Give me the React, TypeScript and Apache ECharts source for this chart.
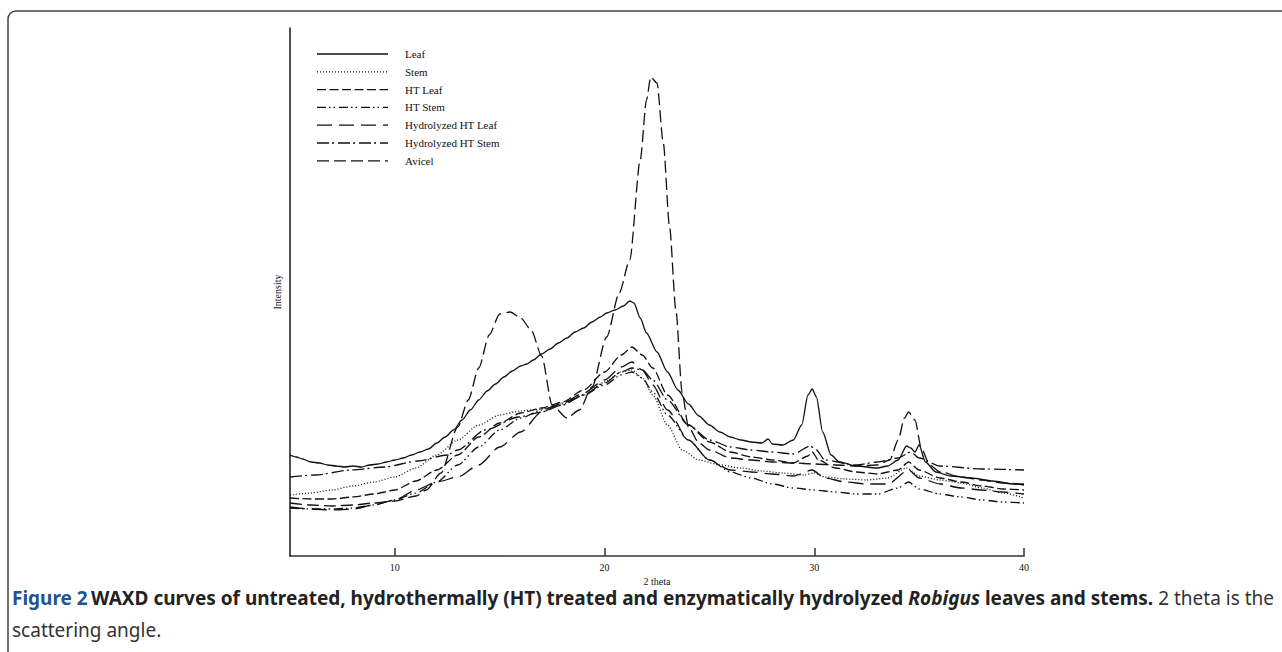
import React, { useEffect, useRef } from "react";
import * as echarts from "echarts";

const seriesNames = ["Leaf", "Stem", "HT Leaf", "HT Stem", "Hydrolyzed HT Leaf", "Hydrolyzed HT Stem", "Avicel"];

const xTicks = [10, 20, 30, 40];

const leaf: [number, number][] = [
  [5.0, 101], [5.3, 99], [5.6, 97], [6.0, 94], [6.4, 93], [6.8, 91], [7.2, 90], [7.6, 89], [8.0, 90], [8.4, 89],
  [8.8, 91], [9.2, 92], [9.6, 94], [10.0, 96], [10.4, 98], [10.8, 101], [11.2, 104], [11.6, 107], [12.0, 113],
  [12.4, 119], [12.8, 126], [13.2, 136], [13.6, 146], [14.0, 156], [14.4, 165], [14.8, 172], [15.2, 179],
  [15.6, 185], [16.0, 190], [16.3, 192], [16.6, 196], [17.0, 202], [17.4, 207], [17.8, 213], [18.2, 218],
  [18.6, 224], [19.0, 228], [19.4, 234], [19.8, 239], [20.1, 243], [20.5, 246], [20.9, 250], [21.2, 255],
  [21.4, 253], [21.7, 238], [22.0, 223], [22.5, 204], [23.0, 184], [23.5, 166], [24.0, 152], [24.5, 140],
  [25.0, 131], [25.5, 124], [26.0, 119], [26.5, 116], [27.0, 114], [27.5, 113], [27.8, 117], [28.0, 112],
  [28.5, 111], [29.0, 116], [29.4, 131], [29.7, 161], [29.9, 167], [30.1, 159], [30.4, 124], [30.8, 101],
  [31.2, 94], [32.0, 90], [33.0, 88], [33.5, 90], [34.0, 96], [34.4, 110], [34.6, 108], [34.8, 104],
  [35.0, 111], [35.3, 94], [35.8, 84], [36.5, 80], [37.5, 78], [38.5, 75], [39.5, 72], [40.0, 71],
];

const stem: [number, number][] = [
  [5, 61], [6, 63], [7, 66], [8, 70], [9, 74], [10, 79], [11, 88], [12, 101], [13, 116], [14, 131], [15, 141],
  [16, 145], [17, 147], [18, 152], [19, 161], [20, 174], [20.8, 184], [21.3, 186], [21.8, 178], [22.3, 161],
  [23, 131], [23.7, 106], [24.5, 96], [25.5, 91], [26.5, 88], [27.5, 85], [28.5, 83], [29.5, 81], [30, 83],
  [30.5, 79], [31.5, 77], [32.5, 76], [33.5, 78], [34.4, 88], [35, 80], [36, 76], [37, 73], [38, 68], [39, 63],
  [40, 58],
];

const htLeaf: [number, number][] = [
  [5, 58], [6, 57], [7, 57], [8, 59], [9, 62], [10, 66], [11, 75], [12, 86], [13, 101], [14, 119], [15, 133],
  [16, 143], [17, 148], [18, 154], [19, 166], [20, 184], [20.8, 201], [21.3, 209], [21.8, 201], [22.3, 188],
  [23, 161], [24, 131], [25, 114], [26, 104], [27, 99], [28, 96], [29, 93], [29.7, 100], [29.9, 104],
  [30.2, 96], [31, 88], [32, 84], [33, 82], [34, 86], [34.5, 94], [35, 86], [36, 78], [37, 74], [38, 70],
  [39, 67], [40, 66],
];

const htStem: [number, number][] = [
  [5, 48], [6, 47], [7, 47], [8, 48], [9, 51], [10, 56], [11, 63], [12, 74], [13, 91], [14, 109], [15, 126],
  [16, 138], [17, 146], [18, 153], [19, 161], [20, 171], [20.8, 181], [21.3, 184], [21.8, 178], [22.3, 164],
  [23, 141], [24, 116], [25, 96], [26, 84], [27, 78], [28, 72], [29, 68], [30, 66], [31, 64], [32, 62], [33, 62],
  [34, 68], [34.5, 74], [35, 67], [36, 62], [37, 59], [38, 56], [39, 54], [40, 53],
];

const hydLeaf: [number, number][] = [
  [5, 49], [6, 47], [7, 46], [8, 47], [9, 51], [10, 56], [11, 66], [12, 74], [13, 79], [14, 91], [15, 109],
  [16, 124], [17, 144], [18, 153], [19, 163], [20, 176], [20.8, 189], [21.3, 194], [21.8, 186], [22.3, 171],
  [23, 146], [24, 116], [25, 96], [26, 86], [27, 84], [28, 82], [29, 80], [29.9, 86], [30.5, 78], [31.5, 74],
  [32.5, 72], [33.5, 72], [34.5, 86], [35, 78], [36, 72], [37, 68], [38, 66], [39, 64], [40, 62],
];

const hydStem: [number, number][] = [
  [5, 79], [6.2, 81], [7.9, 86], [9.5, 89], [11.1, 95], [12.5, 101], [13, 106], [14.3, 126], [15.9, 139],
  [17, 144], [18, 151], [19, 161], [20, 173], [20.8, 184], [21.3, 188], [21.8, 186], [22.3, 176], [23, 156],
  [24, 131], [25, 116], [26, 109], [27, 106], [28, 104], [29, 102], [29.8, 110], [30.1, 106], [30.5, 96],
  [32, 91], [33, 94], [34, 98], [34.6, 104], [35, 98], [36, 90], [38, 87], [40, 86],
];

const avicel: [number, number][] = [
  [5, 53], [6, 51], [7, 50], [8, 51], [9, 53], [10, 55], [11, 60], [11.5, 66], [12.2, 83], [13, 129],
  [13.5, 156], [14, 188], [14.5, 221], [15, 242], [15.5, 244], [16, 238], [16.5, 226], [17, 200], [17.5, 151],
  [18.2, 138], [18.8, 146], [19.4, 169], [20.1, 219], [20.7, 263], [21.2, 296], [21.7, 396], [22.0, 456],
  [22.2, 479], [22.5, 473], [22.8, 413], [23.1, 329], [23.4, 246], [23.7, 163], [24.0, 129], [24.5, 113],
  [25, 106], [26, 98], [27, 96], [28, 94], [29, 93], [30, 92], [31, 91], [32, 90], [33, 91], [33.6, 96],
  [34.0, 116], [34.3, 138], [34.5, 144], [34.8, 136], [35.1, 108], [35.5, 91], [36, 84], [37, 79], [38, 76],
  [39, 73], [40, 72],
];

const seriesData = [leaf, stem, htLeaf, htStem, hydLeaf, hydStem, avicel];
const dashes: any[] = ["solid", [1, 2], [9, 3.5], [9, 3, 1.5, 3, 1.5, 4], [15, 7], [12, 3, 2, 4], [12, 5]];

const INK = "#111";
const SERIF = '"Liberation Serif", "Times New Roman", serif';
const CAPTION_FONT = '"Noto Sans", "Open Sans", sans-serif';
const CAP_SIZE = 19;

function buildOption() {
  const legendItems: any[] = [];
  seriesNames.forEach((name, i) => {
    const y = 54 + i * 17.8;
    legendItems.push({
      type: "line",
      shape: { x1: 317, y1: y, x2: 388, y2: y },
      style: {
        stroke: INK,
        lineWidth: 1.3,
        lineDash: dashes[i] === "solid" ? null : dashes[i],
      },
    });
    legendItems.push({
      type: "text",
      x: 405,
      y,
      style: {
        text: name,
        fill: INK,
        font: `11px ${SERIF}`,
        verticalAlign: "middle",
        textAlign: "left",
      },
    });
  });

  return {
    animation: false,
    backgroundColor: "#fff",
    grid: { left: 290, right: 258, top: 28, bottom: 96 },
    xAxis: {
      type: "value",
      min: 5,
      max: 40,
      name: "2 theta",
      nameLocation: "middle",
      nameGap: 18,
      nameTextStyle: { color: INK, fontFamily: SERIF, fontSize: 10 },
      axisLine: { show: true, lineStyle: { color: "#333", width: 1.7 } },
      axisTick: { show: true, inside: true, length: 8, customValues: xTicks, lineStyle: { color: "#333", width: 1.5 } },
      axisLabel: { show: true, customValues: xTicks, color: INK, fontFamily: SERIF, fontSize: 10, margin: 6 },
      splitLine: { show: false },
    },
    yAxis: {
      type: "value",
      min: 0,
      max: 528,
      name: "Intensity",
      nameLocation: "middle",
      nameRotate: 90,
      nameGap: 8,
      nameTextStyle: { color: INK, fontFamily: SERIF, fontSize: 10 },
      axisLine: { show: true, lineStyle: { color: "#333", width: 1.7 } },
      axisTick: { show: false },
      axisLabel: { show: false },
      splitLine: { show: false },
    },
    series: seriesData.map((d, i) => ({
      name: seriesNames[i],
      type: "line",
      data: d,
      symbol: "none",
      smooth: 0.25,
      smoothMonotone: "x",
      lineStyle: { color: INK, width: 1.3, type: dashes[i] },
    })),
    graphic: [
      {
        type: "rect",
        shape: { x: 8, y: 11, width: 1300, height: 700, r: 8 },
        style: { fill: "none", stroke: "#444", lineWidth: 1.5 },
        silent: true,
      },
      ...legendItems,
      {
        type: "text",
        x: 12,
        y: 598,
        style: {
          text:
            "{b|Figure 2} {k|WAXD curves of untreated, hydrothermally (HT) treated and enzymatically hydrolyzed }{i|Robigus}{k| leaves and stems.}{n| 2 theta is the}",
          verticalAlign: "middle",
          textAlign: "left",
          rich: {
            b: { fontFamily: CAPTION_FONT, fontSize: CAP_SIZE, fontWeight: "bold", fill: "#21548f" },
            k: { fontFamily: CAPTION_FONT, fontSize: CAP_SIZE, fontWeight: "bold", fill: "#222" },
            i: { fontFamily: CAPTION_FONT, fontSize: CAP_SIZE, fontWeight: "bold", fontStyle: "italic", fill: "#222" },
            n: { fontFamily: CAPTION_FONT, fontSize: CAP_SIZE, fill: "#333" },
          },
        },
      },
      {
        type: "text",
        x: 12,
        y: 630,
        style: {
          text: "scattering angle.",
          fill: "#333",
          font: `${CAP_SIZE}px ${CAPTION_FONT}`,
          verticalAlign: "middle",
          textAlign: "left",
        },
      },
    ],
  };
}

export default function App() {
  const ref = useRef<HTMLDivElement>(null);
  useEffect(() => {
    document.body.style.margin = "0";
    const chart = echarts.init(ref.current as HTMLDivElement, null, { renderer: "svg" });
    chart.setOption(buildOption() as any);
    return () => chart.dispose();
  }, []);
  return <div ref={ref} style={{ width: 1282, height: 652, background: "#fff" }} />;
}
